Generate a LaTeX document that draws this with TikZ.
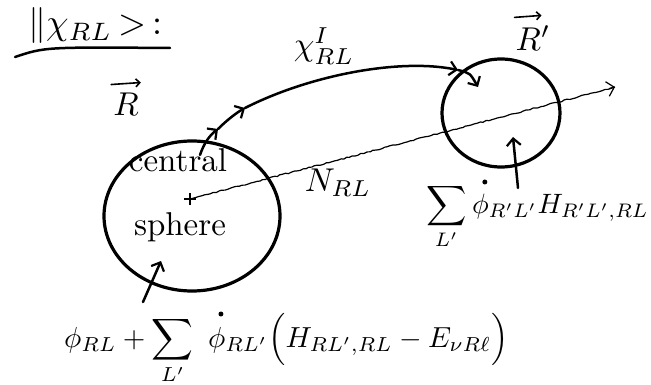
\documentclass[tikz,border=0pt]{standalone}
\usepackage{amsmath}
\usepackage{graphicx}
\usetikzlibrary{arrows.meta,decorations.pathmorphing,shapes.geometric,calc}
\newcommand{\bigtxt}[1]{\scalebox{3.3}{#1}}
\newcommand{\bigmth}[1]{\scalebox{2.9}{#1}}
\begin{document}
\begin{tikzpicture}[x=1pt,y=-1pt,
  ink/.style={line width=2.5pt, line cap=round, line join=round},
  circ/.style={ellipse, draw, line width=3.2pt, inner sep=0pt},
  tip/.style={-{Straight Barb[length=7pt,width=14pt,line width=2.2pt]}},
  vecarrow/.style={line width=1.6pt, line cap=round, -{Straight Barb[length=4pt,width=8pt,line width=1.6pt]}},
  lbl/.style={inner sep=0pt},
  dotmark/.style={circle, fill, inner sep=0pt, minimum size=5pt},
  wavy/.style={line width=1.2pt, decorate, decoration={random steps, segment length=3pt, amplitude=0.6pt}}]
\useasboundingbox (0,0) rectangle (651,385);

% title
\node[lbl, anchor=west] (title) at (28,26) {\scalebox{3.6}{$\|\chi_{RL}\,{>}\,{:}$}};
\coordinate (u1) at (15,57);
\coordinate (u2) at (170,48);
\draw[ink] (u1) .. controls (45,47) .. (u2);

% spheres
\node[circ, minimum width=176, minimum height=150] (S) at (192,216) {};
\node[circ, minimum width=118, minimum height=108] (Sp) at (501,113) {};

% position vectors
\node[lbl] (R) at (126,104) {\bigtxt{$R$}};
\draw[vecarrow] ($(R.north west)+(-2,-8)$) -- ($(R.north east)+(2,-10)$);
\node[lbl] (Rp) at (533,38) {\bigtxt{$R'$}};
\draw[vecarrow] ($(Rp.north west)+(-1,-8)$) -- ($(Rp.north west)+(26,-10)$);

\node[lbl] (central) at (178,160) {\bigtxt{central}};
\node[lbl] (sphere) at (180,227) {\bigtxt{sphere}};

% centre mark
\node[inner sep=0pt, minimum size=12pt] (ctr) at (190,199) {};
\draw[line width=1.3pt] (ctr.north) -- (ctr.south) (ctr.west) -- (ctr.east);

% N_RL wavy line
\coordinate (nend) at (615,87);
\draw[wavy] (ctr.center) -- (nend);
\draw[line width=1.2pt, -{Straight Barb[length=7pt,width=15pt,line width=1.2pt]}] ($(nend)!6pt!(ctr.center)$) -- (nend);
\node[lbl] (N) at (338,183) {\bigtxt{$N_{RL}$}};

% chi path
\coordinate (c0) at (200,155);
\coordinate (c1) at (218,129);
\coordinate (c2) at (245,108);
\coordinate (c3) at (458,70);
\coordinate (c4) at (478,87);
\draw[ink, tip] (c0) .. controls (204,143) and (210,135) .. (c1);
\draw[ink, tip] (c1) .. controls (226,121) and (236,113) .. (c2);
\draw[ink, tip] (c2) .. controls (310,75) and (400,58) .. (c3);
\draw[ink, tip] (c3) .. controls (470,73) .. (c4);
\node[lbl] (chi) at (324,46) {\bigtxt{$\chi^{I}_{RL}$}};

% right formula
\node[lbl, anchor=base west] (F2a) at (426,213) {\scalebox{2.8}{$\displaystyle\sum_{L'}$}};
\node[lbl, anchor=base west] (F2b) at ($(F2a.base east)+(5,0)$) {\scalebox{2.8}{$\phi_{R'L'}H_{R'L',RL}$}};
\node[dotmark] (d2) at ($(F2b.base west)+(13,-31)$) {};
\coordinate (a2) at (518,188);
\coordinate (b2) at (513,137);
\draw[ink, tip] (a2) -- (b2);

% bottom formula
\node[lbl, anchor=base west] (F1a) at (64,347) {\bigmth{$\phi_{RL}+\displaystyle\sum_{L'}$}};
\node[lbl, anchor=base west] (F1b) at ($(F1a.base east)+(14,0)$) {\bigmth{$\phi_{RL'}\Bigl(H_{RL',RL}-E_{\nu R\ell}\Bigr)$}};
\node[dotmark] (d1) at ($(F1b.base west)+(13,-33)$) {};
\coordinate (a1) at (143,302);
\coordinate (b1) at (161,261);
\draw[ink, tip] (a1) -- (b1);
\end{tikzpicture}
\end{document}
